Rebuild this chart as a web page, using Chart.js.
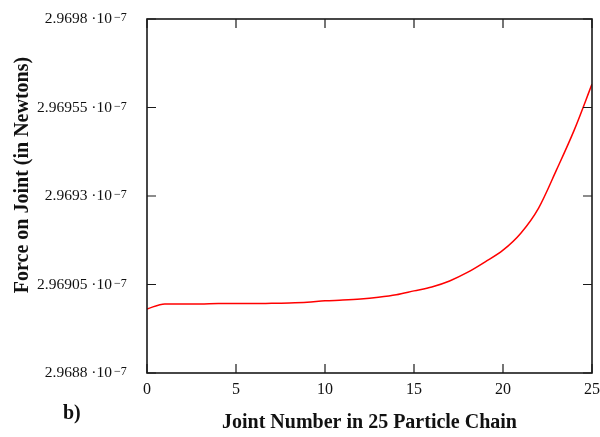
<!DOCTYPE html>
<html>
<head>
<meta charset="utf-8">
<script src="https://cdn.jsdelivr.net/npm/chart.js@4.4.1/dist/chart.umd.min.js"></script>
<style>
  html, body { margin: 0; padding: 0; background: #fff; }
  #wrap { width: 600px; height: 437px; }
</style>
</head>
<body>
<div id="wrap"><canvas id="myChart" width="600" height="437"></canvas></div>
<script>
// joint index along the chain
const joints = [0, 1, 2, 3, 4, 5, 6, 7, 8, 9, 10, 11, 12, 13, 14, 15, 16, 17, 18, 19, 20, 21, 22, 23, 24, 25];
// force on each joint, in units of 1e-7 N
const force = [
  2.968981, 2.968995, 2.968995, 2.968995, 2.968996, 2.968996, 2.968996, 2.968997, 2.968998, 2.969000,
  2.969004, 2.969006, 2.969009, 2.969014, 2.969021, 2.969032, 2.969043, 2.969060, 2.969084, 2.969114,
  2.969147, 2.969195, 2.969266, 2.969373, 2.969486, 2.969616
];
const xTicks = [0, 5, 10, 15, 20, 25];
const yTicks = [2.9688, 2.96905, 2.9693, 2.96955, 2.9698];
const yExponent = '\u22127';

const serif = "'Liberation Serif', 'Times New Roman', serif";
// y labels end 35px left of the axis: invisible tick 26 + padding 9
const yTickLen = 26, yLabelPad = 9;

// 2.96955 -> "2.96955 ·10" (exponent drawn as superscript by the plugin)
function fmtY(v) {
  return v.toFixed(5).replace(/0+$/, '') + ' \u00b710';
}

// frame, inward ticks, exponents and the free text
const framePlugin = {
  id: 'frame',
  afterDraw(chart) {
    const ctx = chart.ctx;
    const a = chart.chartArea;
    const xs = chart.scales.x, ys = chart.scales.y;
    const len = 9;
    ctx.save();
    ctx.strokeStyle = '#1a1a1a';
    ctx.lineWidth = 1.6;
    ctx.strokeRect(a.left, a.top, a.right - a.left, a.bottom - a.top);
    ctx.lineWidth = 1.2;
    ctx.beginPath();
    xTicks.forEach(t => {
      const px = xs.getPixelForValue(t);
      ctx.moveTo(px, a.bottom); ctx.lineTo(px, a.bottom - len);
      ctx.moveTo(px, a.top); ctx.lineTo(px, a.top + len);
    });
    yTicks.forEach(t => {
      const py = ys.getPixelForValue(t);
      ctx.moveTo(a.left, py); ctx.lineTo(a.left + len, py);
      ctx.moveTo(a.right, py); ctx.lineTo(a.right - len, py);
    });
    ctx.stroke();

    ctx.fillStyle = '#111';
    ctx.font = '12px ' + serif;
    ctx.textAlign = 'left';
    ctx.textBaseline = 'alphabetic';
    yTicks.forEach(t => {
      ctx.fillText(yExponent, a.left - yTickLen - yLabelPad + 2, ys.getPixelForValue(t) + 2);
    });

    ctx.font = 'bold 20px ' + serif;
    ctx.textAlign = 'center';
    ctx.fillText('Joint Number in 25 Particle Chain', (a.left + a.right) / 2, 428);

    ctx.textAlign = 'left';
    ctx.fillText('b)', 63, 419);

    ctx.translate(28, 175);
    ctx.rotate(-Math.PI / 2);
    ctx.textAlign = 'center';
    ctx.fillText('Force on Joint (in Newtons)', 0, 0);
    ctx.restore();
  }
};

const ctx = document.getElementById('myChart').getContext('2d');
new Chart(ctx, {
  type: 'line',
  data: {
    labels: joints,
    datasets: [{
      data: joints.map((j, i) => ({ x: j, y: force[i] })),
      borderColor: '#ff0000',
      borderWidth: 1.5,
      pointRadius: 0,
      fill: false,
      cubicInterpolationMode: 'monotone'
    }]
  },
  options: {
    responsive: false,
    animation: false,
    devicePixelRatio: 1,
    layout: { padding: { top: 19, right: 2, left: 0, bottom: 0 } },
    plugins: { legend: { display: false }, tooltip: { enabled: false } },
    scales: {
      x: {
        type: 'linear',
        min: 0,
        max: 25,
        afterBuildTicks: s => { s.ticks = xTicks.map(v => ({ value: v })); },
        afterFit: s => { s.height = 64; },
        grid: { display: false, drawTicks: true, tickLength: 7 },
        border: { display: false },
        ticks: {
          color: '#111',
          font: { family: serif, size: 16 },
          padding: 0,
          maxRotation: 0
        }
      },
      y: {
        type: 'linear',
        min: 2.9688,
        max: 2.9698,
        afterBuildTicks: s => { s.ticks = yTicks.map(v => ({ value: v })); },
        afterFit: s => { s.width = 147; },
        grid: { display: false, drawTicks: true, tickLength: yTickLen },
        border: { display: false },
        ticks: {
          color: '#111',
          font: { family: serif, size: 15.5 },
          padding: yLabelPad,
          callback: v => fmtY(v)
        }
      }
    }
  },
  plugins: [framePlugin]
});
</script>
</body>
</html>
